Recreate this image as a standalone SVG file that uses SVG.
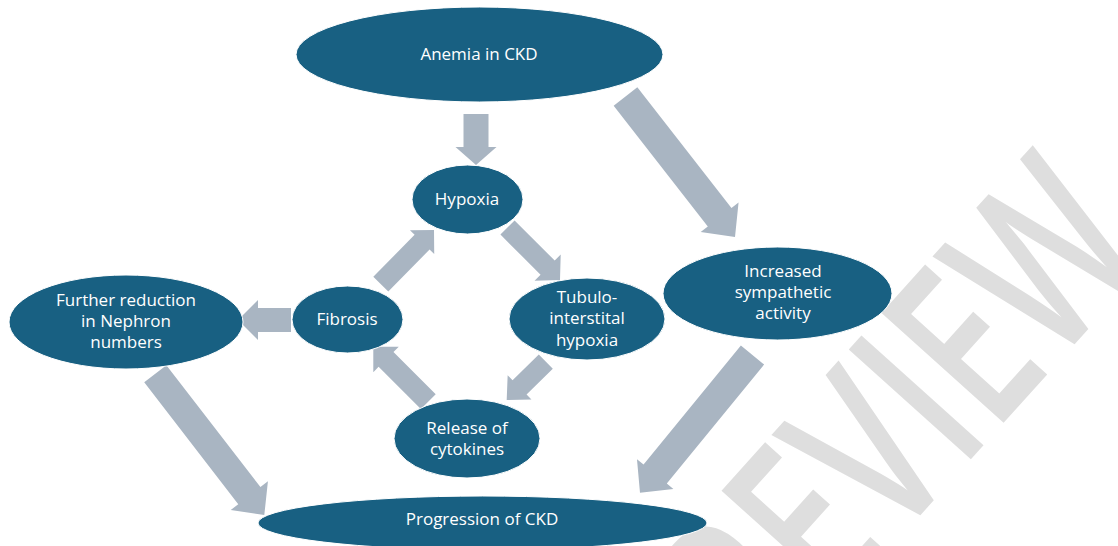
<svg xmlns="http://www.w3.org/2000/svg" width="1118" height="546" viewBox="0 0 1118 546">
<style>
.node{fill:#186082;stroke:#ffffff;stroke-width:1}
.lbl{font-family:"Open Sans","Noto Sans",sans-serif;font-size:17px;fill:#ffffff;text-anchor:middle}
.arr{fill:#a9b5c2}
.wm{font-family:"Open Sans","Noto Sans",sans-serif;font-size:230px;font-weight:600;fill:#dedede;text-anchor:middle}
</style>
<rect width="1118" height="546" fill="#ffffff"/>
<text class="wm" transform="translate(927,508) rotate(-48) scale(0.7,1)">PREVIEW</text>
<g id="connectors">
<polygon class="arr" points="463.5,114 463.5,147 455.5,147 476,165 496.5,147 488.5,147 488.5,114"/>
<polygon class="arr" points="613.67,105.72 707.8,226.5 700.7,232.04 735,237 738.56,202.52 731.46,208.06 637.33,87.28"/>
<polygon class="arr" points="500.43,234.57 540.56,274.7 534.55,280.71 560,280 560.71,254.55 554.7,260.56 514.57,220.43"/>
<polygon class="arr" points="538.8,354.56 512.56,380.26 507.66,375.26 506.7,400 531.46,399.54 526.56,394.54 552.8,368.84"/>
<polygon class="arr" points="435.72,394.28 393.45,352.01 398.76,346.7 373.3,346.7 373.3,372.16 378.61,366.85 420.88,409.12"/>
<polygon class="arr" points="388.29,291.56 429.58,249.49 434.22,254.04 434,230 409.96,230.22 414.6,234.77 373.31,276.84"/>
<polygon class="arr" points="291,308 258,308 258,300 238,320 258,340 258,332 291,332"/>
<polygon class="arr" points="144.22,382.36 238.25,504.17 230.73,509.97 264.3,515 267.93,481.25 260.41,487.05 166.38,365.24"/>
<polygon class="arr" points="740.88,345.51 643.56,464.62 636.98,459.24 640,492.7 673.38,488.98 666.8,483.6 764.12,364.49"/>
</g>
<g id="anemia">
<ellipse class="node" cx="479.5" cy="54.5" rx="183.5" ry="47.5"/>
<text class="lbl" x="479" y="60">Anemia in CKD</text>
</g>
<g id="hypoxia">
<ellipse class="node" cx="467.5" cy="199.5" rx="55.5" ry="34.5"/>
<text class="lbl" x="467" y="205">Hypoxia</text>
</g>
<g id="tubulo">
<ellipse class="node" cx="587" cy="319" rx="78" ry="41"/>
<text class="lbl" x="587" y="303">Tubulo-</text>
<text class="lbl" x="587" y="324">interstital</text>
<text class="lbl" x="587" y="346">hypoxia</text>
</g>
<g id="fibrosis">
<ellipse class="node" cx="347.5" cy="319.5" rx="55.5" ry="33.5"/>
<text class="lbl" x="347" y="325">Fibrosis</text>
</g>
<g id="cytokines">
<ellipse class="node" cx="467" cy="438.5" rx="73" ry="39.5"/>
<text class="lbl" x="467" y="434">Release of</text>
<text class="lbl" x="467" y="455">cytokines</text>
</g>
<g id="sympathetic">
<ellipse class="node" cx="777.5" cy="293.5" rx="114.5" ry="46.5"/>
<text class="lbl" x="783" y="277">Increased</text>
<text class="lbl" x="783" y="298">sympathetic</text>
<text class="lbl" x="783" y="319">activity</text>
</g>
<g id="nephron">
<ellipse class="node" cx="126" cy="322" rx="117" ry="47"/>
<text class="lbl" x="126" y="306">Further reduction</text>
<text class="lbl" x="126" y="327">in Nephron</text>
<text class="lbl" x="126" y="348">numbers</text>
</g>
<g id="progression">
<ellipse class="node" cx="482.5" cy="523" rx="224.5" ry="27"/>
<text class="lbl" x="482" y="525">Progression of CKD</text>
</g>
</svg>
